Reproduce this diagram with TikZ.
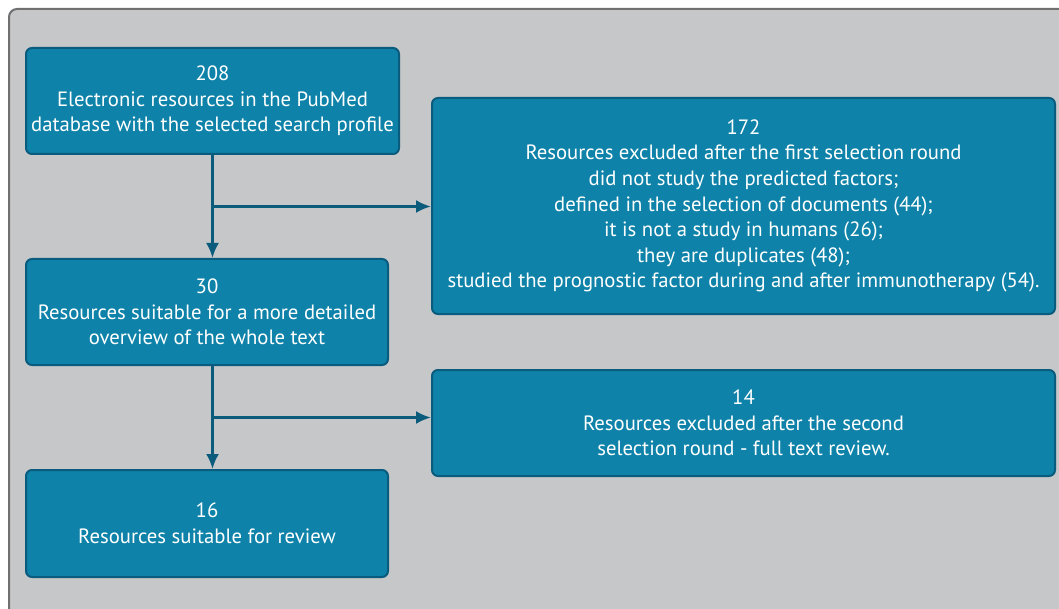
\documentclass[tikz,border=0pt]{standalone}
\usepackage{fontspec}
\setmainfont{PT Sans}
\usetikzlibrary{arrows.meta,positioning,calc}
\definecolor{panelgray}{HTML}{C6C7C9}
\definecolor{panelline}{HTML}{707070}
\definecolor{boxteal}  {HTML}{0E82A8}
\definecolor{boxedge}  {HTML}{0A5C7E}
\definecolor{arrowblue}{HTML}{0B5B7D}

\begin{document}
\begin{tikzpicture}[
  stage/.style={draw=boxedge,fill=boxteal,line width=2pt,rounded corners=6pt,
                text=white,align=center,inner sep=0pt,
                font=\fontsize{20.7}{25.6}\selectfont},
  keep/.style ={stage,minimum width=362pt,minimum height=106pt},
  drop/.style ={stage,minimum width=623pt},
  arr/.style  ={-{Latex[length=15pt,width=13pt]},draw=arrowblue,line width=2.5pt},
  x=1pt, y=-1pt
]
%% page = 1059 x 609, y runs downwards
\clip (0,0) rectangle (1059,609);
\draw[fill=panelgray,draw=panelline,line width=2pt,rounded corners=8pt]
  (9,9) rectangle (1090,640);

%% left column: records kept
\node[keep,minimum width=373pt] (pub)  at (212.5,101) {208\\Electronic resources in the PubMed\\database with the selected search profile};
\node[keep]                     (full) at (207,312)   {30\\Resources suitable for a more detailed\\overview of the whole text};
\node[keep,minimum height=107pt] (rev) at (207,523.5) {16\\Resources suitable for review};

%% right column: records excluded
\node[drop,minimum height=216pt] (ex1) at (743.5,206) {172\\Resources excluded after the first selection round\\did not study the predicted factors;\\defined in the selection of documents (44);\\it is not a study in humans (26);\\they are duplicates (48);\\studied the prognostic factor during and after immunotherapy (54).};
\node[drop,minimum height=106pt] (ex2) at (743.5,423) {14\\Resources excluded after the second\\ selection round - full text review.};

%% junctions half way down each vertical link
\coordinate (j1) at ($(pub.south)!0.5!(pub.south |- full.north)$);
\coordinate (j2) at ($(pub.south |- full.south)!0.5!(pub.south |- rev.north)$);

%% flow
\draw[arr] (pub.south) -- (pub.south |- full.north);
\draw[arr] (j1) -- (j1 -| ex1.west);
\draw[arr] (pub.south |- full.south) -- (pub.south |- rev.north);
\draw[arr] (j2) -- (j2 -| ex2.west);

\end{tikzpicture}
\end{document}
